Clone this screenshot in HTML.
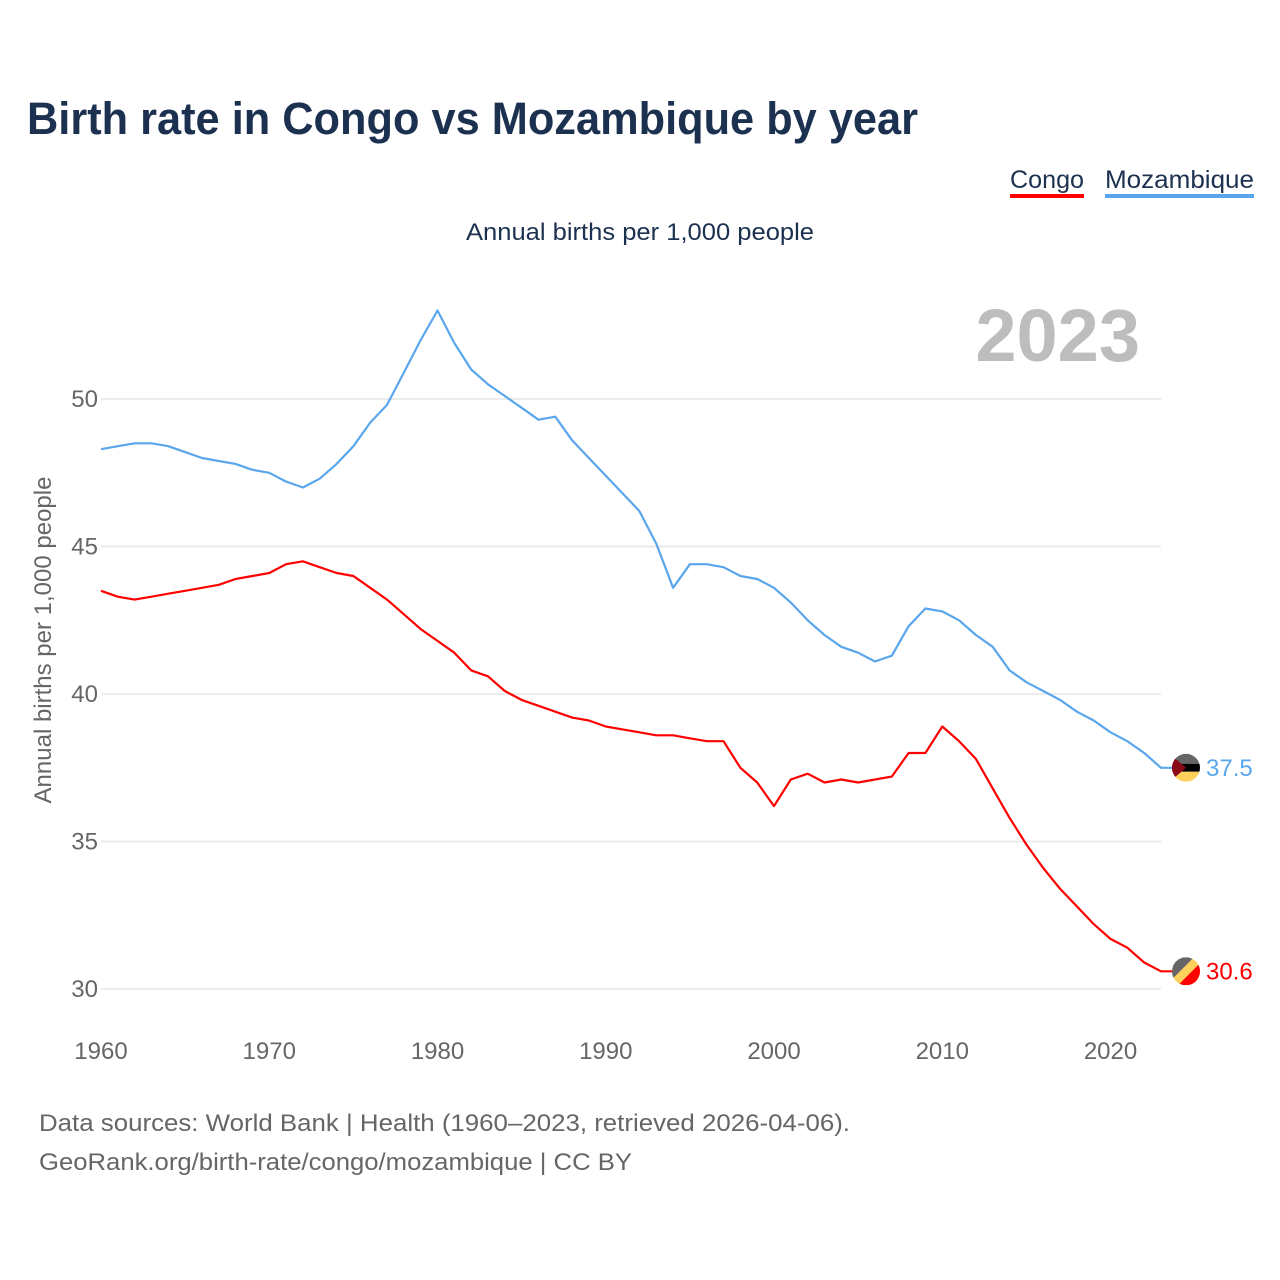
<!DOCTYPE html>
<html><head><meta charset="utf-8"><style>
body{margin:0;background:#fff;font-family:"Liberation Sans",sans-serif}
svg{display:block}
</style></head><body>
<svg width="1280" height="1280" xmlns="http://www.w3.org/2000/svg">
<defs>
<clipPath id="cm"><circle cx="0" cy="0" r="14"/></clipPath>
</defs>
<text x="27" y="134" font-size="45" font-weight="bold" fill="#1c3150" textLength="891" lengthAdjust="spacingAndGlyphs">Birth rate in Congo vs Mozambique by year</text>
<g>
<text x="1010" y="188" font-size="25" fill="#1c3150" textLength="74" lengthAdjust="spacingAndGlyphs">Congo</text>
<rect x="1010" y="194" width="74" height="4" fill="#ff0000"/>
<text x="1105" y="188" font-size="25" fill="#1c3150" textLength="149" lengthAdjust="spacingAndGlyphs">Mozambique</text>
<rect x="1105" y="194" width="149" height="4" fill="#5aa6ec"/>
</g>
<text x="466" y="240" font-size="24" fill="#1c3150" textLength="348" lengthAdjust="spacingAndGlyphs">Annual births per 1,000 people</text>
<text x="1140" y="361" font-size="74" font-weight="bold" fill="#bdbdbd" text-anchor="end">2023</text>
<text transform="translate(51,640) rotate(-90)" font-size="24" fill="#666" text-anchor="middle">Annual births per 1,000 people</text>
<g id="grid"></g><g id="yt"></g><g id="xt"></g><g id="lines"></g><g id="ends"></g>
<text x="39" y="1131" font-size="24" fill="#666" textLength="811" lengthAdjust="spacingAndGlyphs">Data sources: World Bank | Health (1960–2023, retrieved 2026-04-06).</text>
<text x="39" y="1170" font-size="24" fill="#666" textLength="593" lengthAdjust="spacingAndGlyphs">GeoRank.org/birth-rate/congo/mozambique | CC BY</text>
</svg>
<script>
const years=[];for(let y=1960;y<=2023;y++)years.push(y);
const yTicks=[30,35,40,45,50];
const xTicks=[1960,1970,1980,1990,2000,2010,2020];
const mozambique=[48.3,48.4,48.5,48.5,48.4,48.2,48.0,47.9,47.8,47.6,47.5,47.2,47.0,47.3,47.8,48.4,49.2,49.8,50.9,52.0,53.0,51.9,51.0,50.5,50.1,49.7,49.3,49.4,48.6,48.0,47.4,46.8,46.2,45.1,43.6,44.4,44.4,44.3,44.0,43.9,43.6,43.1,42.5,42.0,41.6,41.4,41.1,41.3,42.3,42.9,42.8,42.5,42.0,41.6,40.8,40.4,40.1,39.8,39.4,39.1,38.7,38.4,38.0,37.5];
const congo=[43.5,43.3,43.2,43.3,43.4,43.5,43.6,43.7,43.9,44.0,44.1,44.4,44.5,44.3,44.1,44.0,43.6,43.2,42.7,42.2,41.8,41.4,40.8,40.6,40.1,39.8,39.6,39.4,39.2,39.1,38.9,38.8,38.7,38.6,38.6,38.5,38.4,38.4,37.5,37.0,36.2,37.1,37.3,37.0,37.1,37.0,37.1,37.2,38.0,38.0,38.9,38.4,37.8,36.8,35.8,34.9,34.1,33.4,32.8,32.2,31.7,31.4,30.9,30.6];
const X=y=>101+(y-1960)*(1060/63);
const Y=v=>989-(v-30)*29.5;
const NS="http://www.w3.org/2000/svg";
function mk(t,p,a){const e=document.createElementNS(NS,t);for(const k in a)e.setAttribute(k,a[k]);(typeof p==='string'?document.getElementById(p):p).appendChild(e);return e;}
yTicks.forEach(t=>{
 const l=mk('line','grid',{x1:101,x2:1161,y1:Y(t),y2:Y(t),stroke:'#e6e6e6','stroke-width':1.5});
 
 
 const tx=mk('text','yt',{x:98,y:Y(t)+8,'font-size':24,fill:'#666','text-anchor':'end'});tx.textContent=t;
 
 
});
xTicks.forEach(t=>{
 const tx=mk('text','xt',{x:X(t),y:1059,'font-size':24,fill:'#666','text-anchor':'middle'});tx.textContent=t;
 
 
});
function line(d,c,n){
 const last=d[d.length-1],cx=X(2023)+25,cy=Y(last);
 const p=mk('path','lines',{d:d.map((v,i)=>(i?'L':'M')+X(years[i]).toFixed(1)+','+Y(v).toFixed(1)).join('')+'L'+(cx-12)+','+cy.toFixed(1),fill:'none',stroke:c,'stroke-width':2.2,'stroke-linejoin':'round'});
 
 
 const g=mk('g','ends',{transform:'translate('+cx+','+cy+')','clip-path':'url(#cm)'});
 
 
 if(n==='congo'){
  mk('rect',g,{x:-14,y:-14,width:28,height:28,fill:'#ffd15c'});
  mk('polygon',g,{points:'-14,-14 8,-14 -14,8',fill:'#666'});
  mk('polygon',g,{points:'14,-8 14,14 -8,14',fill:'#ff0000'});
 }else{
  mk('rect',g,{x:-14,y:-14,width:28,height:10,fill:'#666'});
  mk('rect',g,{x:-14,y:-4,width:28,height:8,fill:'#000'});
  mk('rect',g,{x:-14,y:4,width:28,height:10,fill:'#ffd15c'});
  mk('polygon',g,{points:'-14,-12 0,0 -14,12',fill:'#8b0a1a'});
 }
 const t=mk('text','ends',{x:cx+20,y:cy+8,'font-size':24,fill:c});t.textContent=last.toFixed(1);
 
 
}
line(mozambique,'#5aa6ec','mozambique');
line(congo,'#ff0000','congo');
</script>
</body></html>
